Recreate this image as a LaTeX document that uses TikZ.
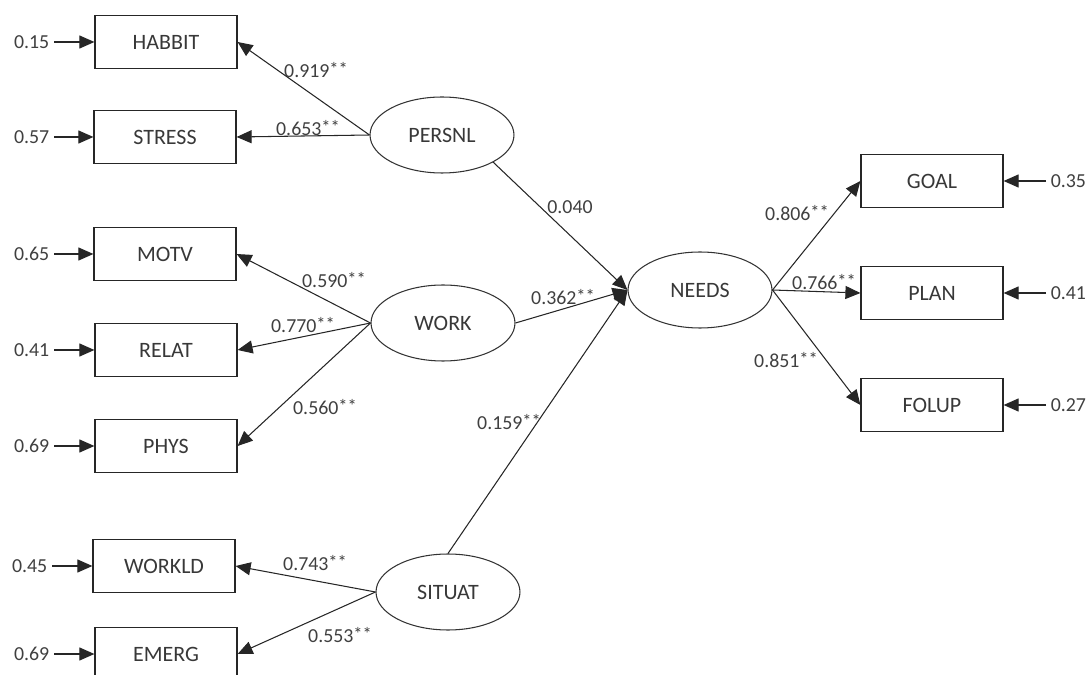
\documentclass[tikz,border=0pt]{standalone}
\usepackage{fontspec}
\setmainfont{Carlito}
\usepackage{tikz}
\usetikzlibrary{shapes}
\usetikzlibrary{arrows.meta}
\tikzstyle{obsvar}=[
        draw=black!85,
        rectangle,
        line width=0.7pt,
        minimum width=2.84cm,
        minimum height=1.06cm,
        inner sep=0pt,
        text=black!78,
        font=\fontsize{12.5}{14}\selectfont
]
\tikzstyle{latvar}=[
        draw=black!80,
        ellipse,
        line width=0.6pt,
        minimum width=2.88cm,
        minimum height=1.52cm,
        inner sep=0pt,
        text=black!78,
        font=\fontsize{12.5}{14}\selectfont
]
\tikzstyle{coef}=[text=black!75,inner sep=1pt,font=\fontsize{11.3}{13}\selectfont]
\tikzstyle{resid}=[coef,inner sep=2.5pt]
\tikzstyle{load}=[-{Triangle[length=3mm,width=2.6mm]},line width=0.6pt,draw=black!85]
\newcommand{\sig}[1]{#1\raisebox{1.4pt}{\fontsize{10.5}{10}\selectfont **}}

\begin{document}
\begin{tikzpicture}[x=0.02cm,y=-0.02cm]
\useasboundingbox (0,0) rectangle (1089,675);
\clip (0,0) rectangle (1089,675);
% indicateurs gauche
\node[obsvar] (habbit) at (166,42) {HABBIT};
\node[obsvar] (stress) at (165,137) {STRESS};
\node[obsvar] (motv) at (165,254) {MOTV};
\node[obsvar] (relat) at (166,350) {RELAT};
\node[obsvar] (phys) at (166,446) {PHYS};
\node[obsvar] (workld) at (164,566) {WORKLD};
\node[obsvar] (emerg) at (166,654) {EMERG};
% indicateurs droite
\node[obsvar] (goal) at (932,181) {GOAL};
\node[obsvar] (plan) at (932,293) {PLAN};
\node[obsvar] (folup) at (932,405) {FOLUP};
% variables latentes
\node[latvar] (persnl) at (442,135) {PERSNL};
\node[latvar] (work) at (443,323) {WORK};
\node[latvar] (situat) at (448,592) {SITUAT};
\node[latvar] (needs) at (700,290) {NEEDS};
% residus
\node[resid,anchor=east] (r1) at (54,42) {0.15};
\node[resid,anchor=east] (r2) at (54,137) {0.57};
\node[resid,anchor=east] (r3) at (54,254) {0.65};
\node[resid,anchor=east] (r4) at (54,350) {0.41};
\node[resid,anchor=east] (r5) at (54,446) {0.69};
\node[resid,anchor=east] (r6) at (52,566) {0.45};
\node[resid,anchor=east] (r7) at (54,654) {0.69};
\node[resid,anchor=west] (r8) at (1046,181) {0.35};
\node[resid,anchor=west] (r9) at (1046,293) {0.41};
\node[resid,anchor=west] (r10) at (1046,405) {0.27};
% coefficients
\node[coef] (c1) at (316,70) {\sig{0.919}};
\node[coef] (c2) at (308,128) {\sig{0.653}};
\node[coef] (c3) at (570,207) {0.040};
\node[coef] (c4) at (563,297) {\sig{0.362}};
\node[coef] (c5) at (334,280) {\sig{0.590}};
\node[coef] (c6) at (303,325) {\sig{0.770}};
\node[coef] (c7) at (325,407) {\sig{0.560}};
\node[coef] (c8) at (509,422) {\sig{0.159}};
\node[coef] (c9) at (315,563) {\sig{0.743}};
\node[coef] (c10) at (340,635) {\sig{0.553}};
\node[coef] (c11) at (797,213) {\sig{0.806}};
\node[coef] (c12) at (824,282) {\sig{0.766}};
\node[coef] (c13) at (786,360) {\sig{0.851}};
%Placementdesfleches
\draw[load] (persnl.west) -- (habbit.east);
\draw[load] (persnl.west) -- (stress.east);
\draw[load] (work.west) -- (motv.east);
\draw[load] (work.west) -- (relat.east);
\draw[load] (work.west) -- (phys.east);
\draw[load] (situat.west) -- (workld.east);
\draw[load] (situat.west) -- (emerg.east);
\draw[load] (persnl.-28) -- (needs.west);
\draw[load] (work.east) -- (needs.west);
\draw[load] (situat.north) -- (needs.west);
\draw[load] (needs.east) -- (goal.west);
\draw[load] (needs.east) -- (plan.west);
\draw[load] (needs.east) -- (folup.west);
\foreach \r/\v in {r1/habbit,r2/stress,r3/motv,r4/relat,r5/phys,r6/workld,r7/emerg}
  \draw[load] (\r) -- (\v);
\foreach \r/\v in {r8/goal,r9/plan,r10/folup}
  \draw[load] (\r) -- (\v);
\end{tikzpicture}
\end{document}
